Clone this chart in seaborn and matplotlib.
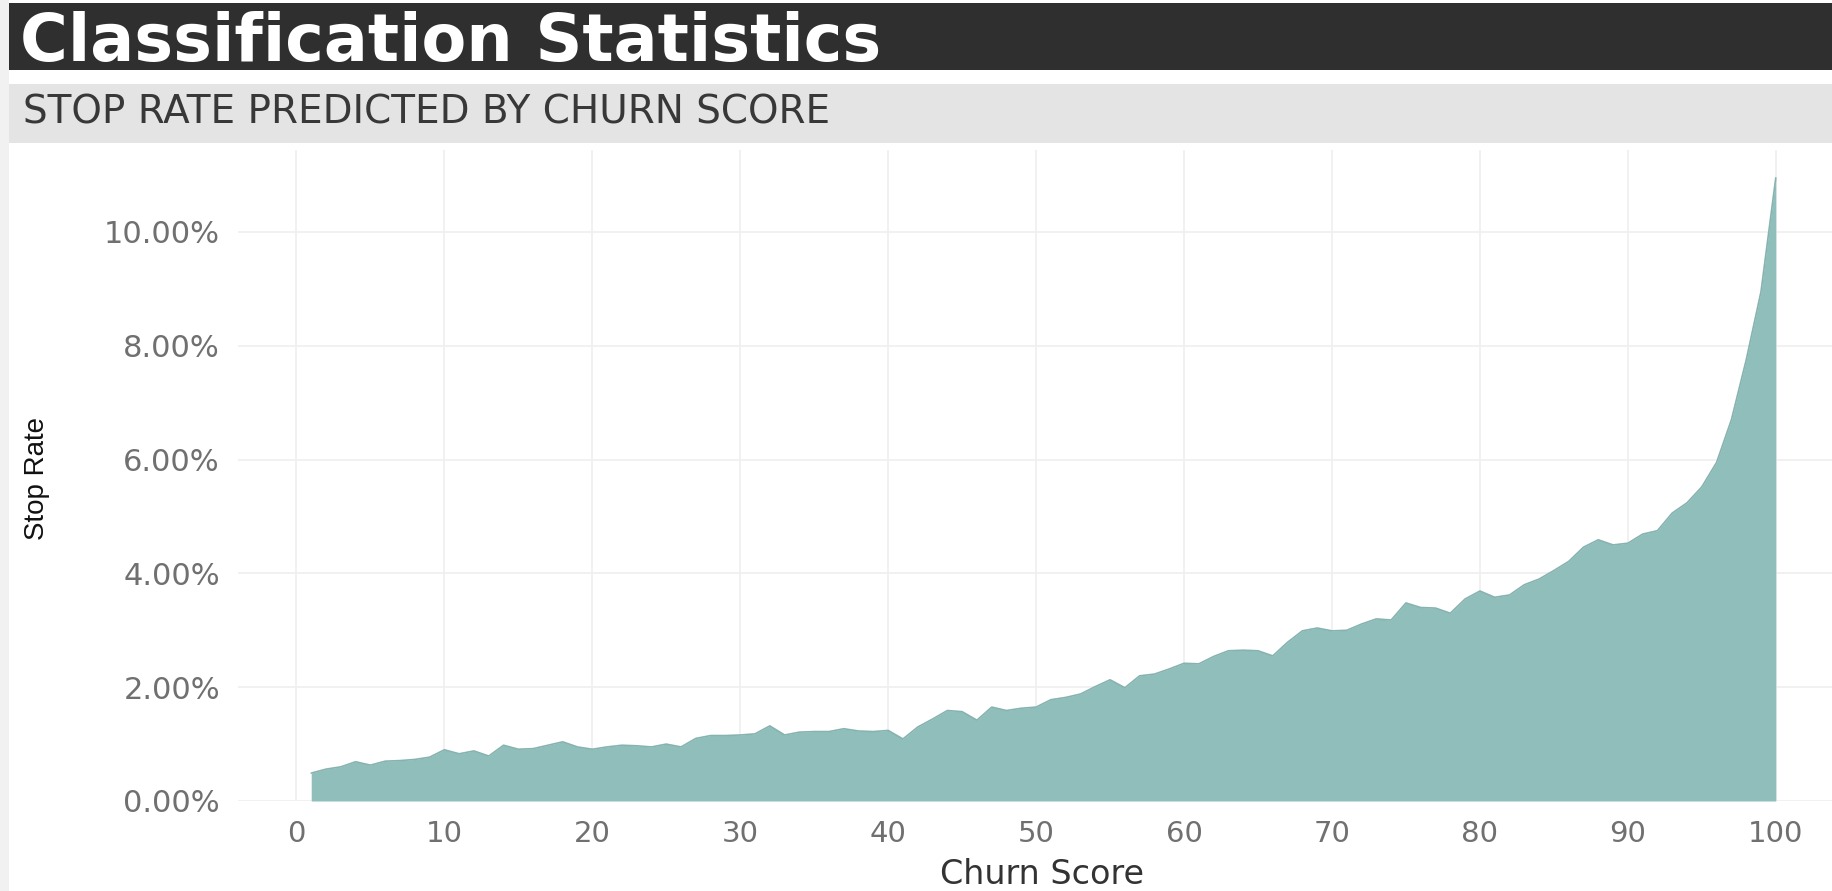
import matplotlib
matplotlib.use("Agg")
import matplotlib.pyplot as plt
from matplotlib.patches import Rectangle
from matplotlib.ticker import FuncFormatter
import seaborn as sns
import pandas as pd

# Churn score buckets and the observed stop rate (in percent) for each bucket
churn_score = list(range(1, 101))
stop_rate_pct = [
    0.49, 0.56, 0.60, 0.69, 0.63, 0.70, 0.71, 0.73, 0.77, 0.90,
    0.83, 0.88, 0.79, 0.98, 0.91, 0.92, 0.98, 1.04, 0.95, 0.91,
    0.95, 0.98, 0.97, 0.95, 1.00, 0.95, 1.10, 1.15, 1.15, 1.16,
    1.18, 1.32, 1.16, 1.21, 1.22, 1.22, 1.27, 1.23, 1.22, 1.24,
    1.09, 1.30, 1.44, 1.59, 1.57, 1.42, 1.65, 1.59, 1.63, 1.65,
    1.78, 1.82, 1.88, 2.01, 2.13, 1.99, 2.20, 2.23, 2.32, 2.42,
    2.41, 2.54, 2.64, 2.65, 2.64, 2.55, 2.79, 2.99, 3.04, 2.99,
    3.00, 3.11, 3.20, 3.18, 3.48, 3.40, 3.39, 3.30, 3.55, 3.69,
    3.58, 3.62, 3.80, 3.90, 4.05, 4.21, 4.46, 4.59, 4.50, 4.53,
    4.69, 4.75, 5.06, 5.24, 5.52, 5.95, 6.70, 7.75, 8.95, 10.95,
]
x_ticks = [0, 10, 20, 30, 40, 50, 60, 70, 80, 90, 100]
y_ticks = [0, 2, 4, 6, 8, 10]

title = "Classification Statistics"
subtitle = "STOP RATE PREDICTED BY CHURN SCORE"
x_label = "Churn Score"
y_label = "Stop Rate"

df = pd.DataFrame({"score": churn_score, "rate": stop_rate_pct})

sns.set_theme(style="whitegrid")
plt.rcParams["font.family"] = ["DejaVu Sans"]

W, H = 1832, 891
fig = plt.figure(figsize=(W / 100, H / 100), dpi=100)
fig.patch.set_facecolor("white")


def fx(px):
    return px / W


def fy(py):
    return 1 - py / H


# header bands
fig.patches.append(Rectangle((0, 0), fx(9), 1, transform=fig.transFigure,
                             facecolor="#f1f1f1", edgecolor="none", zorder=0))
fig.patches.append(Rectangle((fx(9), fy(70)), 1, fy(3) - fy(70), transform=fig.transFigure,
                             facecolor="#2f2f2f", edgecolor="none", zorder=0))
fig.patches.append(Rectangle((fx(9), fy(143)), 1, fy(84) - fy(143), transform=fig.transFigure,
                             facecolor="#e4e4e4", edgecolor="none", zorder=0))
fig.text(fx(20), fy(61), title, color="white", fontsize=47, fontweight="bold",
         va="baseline", ha="left")
fig.text(fx(23), fy(123), subtitle, color="#383838", fontsize=28,
         va="baseline", ha="left")

# plotting panel
left, right, top, bottom = 238, 1832, 150, 801
ax = fig.add_axes([fx(left), fy(bottom), fx(right - left), fy(top) - fy(bottom)])
ax.set_facecolor("white")

ax.fill_between(df["score"], df["rate"], 0, color="#8fbebb", linewidth=0, zorder=2)
sns.lineplot(data=df, x="score", y="rate", ax=ax, color="#86b3b0", linewidth=1.2, zorder=3)

ax.set_xlim(-3.95, 103.8)
ax.set_ylim(0, 11.44)
ax.set_xticks(x_ticks)
ax.set_yticks(y_ticks)
ax.yaxis.set_major_formatter(FuncFormatter(lambda v, p: f"{v:.2f}%"))
ax.grid(True, color="#efefef", linewidth=1.2)
for s in ax.spines.values():
    s.set_visible(False)
ax.tick_params(axis="both", length=0, colors="#707070")
ax.tick_params(axis="y", pad=13, labelsize=22)
ax.tick_params(axis="x", pad=14, labelsize=21)
ax.set_xlabel("")
ax.set_ylabel("")

fig.text(fx(1042), fy(874), x_label, color="#333333", fontsize=24, ha="center", va="center")
fig.text(fx(37), fy(479), y_label, color="#111111", fontsize=20, rotation=90,
         family=["Liberation Sans Narrow", "Liberation Sans", "DejaVu Sans"],
         ha="center", va="center")

fig.savefig("out.png", dpi=100)
